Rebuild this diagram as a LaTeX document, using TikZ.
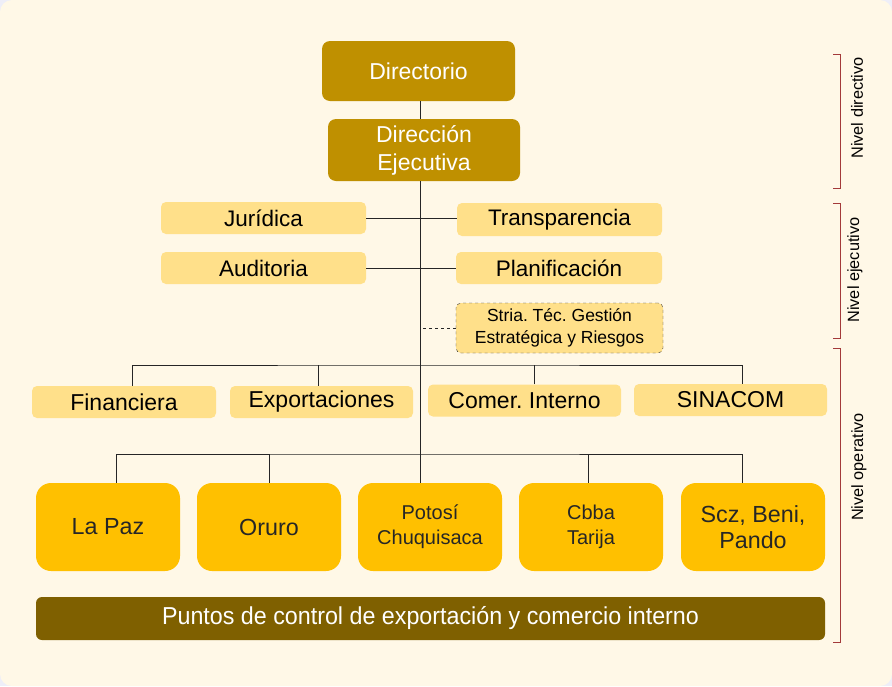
\documentclass[tikz,border=0pt]{standalone}
\usepackage{fontspec}
\setmainfont{Liberation Sans}
\newfontfamily\narrowfont[FakeStretch=0.95]{Liberation Sans}
\usetikzlibrary{positioning, calc}
\frenchspacing

\definecolor{bgcream}{HTML}{FFF8E7}
\definecolor{bgedge}{HTML}{EEEEF8}
\definecolor{darkgold}{HTML}{BF9000}
\definecolor{palegold}{HTML}{FFE08A}
\definecolor{amber}{HTML}{FFC000}
\definecolor{olive}{HTML}{7F6000}
\definecolor{bracketred}{HTML}{A33A3A}
\definecolor{txtgray}{HTML}{262626}

\tikzset{
  topbox/.style={fill=darkgold, text=white, rounded corners=8pt, inner sep=0pt,
    minimum width=193pt, minimum height=60pt, align=center,
    font=\fontsize{23}{28}\selectfont},
  staffbox/.style={fill=palegold, text=black, rounded corners=5pt, inner sep=0pt,
    minimum width=205pt, minimum height=32pt,
    font=\fontsize{22.5}{26}\selectfont},
  unitbox/.style={staffbox, minimum width=184pt, font=\fontsize{23}{26}\selectfont},
  regbox/.style={fill=amber, text=txtgray, rounded corners=15pt, inner sep=0pt,
    minimum width=144pt, minimum height=88pt, align=center,
    font=\fontsize{23.3}{26}\selectfont},
  basebox/.style={fill=olive, text=white, rounded corners=6pt, inner sep=0pt,
    minimum width=789pt, minimum height=43pt, font=\narrowfont\fontsize{24.5}{28}\selectfont},
  lvl/.style={rotate=90, text=black, font=\fontsize{16.3}{20}\selectfont},
  link/.style={draw=black!85, line width=0.9pt}
}

\begin{document}
\begin{tikzpicture}[x=1pt, y=-1pt]

		%Background
		\useasboundingbox (0,0) rectangle (892,686);
		\fill[bgedge] (0,0) rectangle (892,686);
		\fill[bgcream, rounded corners=12pt] (0,0) rectangle (892,686);

		%Directive level
		\node[topbox] (dir) at (418.5,71) {Directorio};
		\node[topbox, minimum width=192pt, minimum height=62pt] (dej) at (424,150) {Dirección\\Ejecutiva};

		%Executive level
		\node[staffbox] (jur) at (263.5,218) {Jurídica};
		\node[staffbox, minimum height=33pt] (tra) at (559.5,219.5) {Transparencia};
		\node[staffbox] (aud) at (263.5,268) {Auditoria};
		\node[staffbox, minimum width=206pt] (pla) at (559,268) {Planificación};
		\node[staffbox, draw=black!80, dashed, minimum width=207pt, minimum height=50pt,
		  align=center, font=\fontsize{17.5}{22}\selectfont] (stria) at (559.5,328)
		  {Stria. Téc. Gestión\\Estratégica y Riesgos};

		%Operative level
		\node[unitbox] (fin) at (124,402) {Financiera};
		\node[unitbox, minimum width=183pt] (exp) at (321.5,402) {Exportaciones};
		\node[unitbox, minimum width=193pt] (com) at (524.5,400.5) {Comer. Interno};
		\node[unitbox, minimum width=193pt] (sin) at (730.5,400) {SINACOM};

		\node[regbox] (lpz) at (108,527) {La Paz};
		\node[regbox] (oru) at (269,527) {Oruro};
		\node[regbox, font=\fontsize{20}{25}\selectfont] (pot) at (430,527) {Potosí\\Chuquisaca};
		\node[regbox, font=\fontsize{20}{25}\selectfont] (cbb) at (591,527) {Cbba\\Tarija};
		\node[regbox] (scz) at (753,527) {Scz, Beni,\\Pando};

		\node[basebox] (ctl) at (430.5,618.5) {Puntos de control de exportación y comercio interno};

		%Connectors
		\coordinate (hub1) at (420,365);
		\coordinate (hub2) at (420,454);
		\draw[link] (dir.south -| hub1) -- (dej.north -| hub1);
		\draw[link] (dej.south -| hub1) -- (pot.north -| hub1);
		\draw[link] (jur.east) -- (jur.east -| tra.west);
		\draw[link] (aud.east) -- (aud.east -| pla.west);
		\draw[link, dashed] (stria.west) -- (stria.west -| hub1);
		\draw[link] (fin.north -| 132,0) |- (hub1) -| (sin.north -| 742,0);
		\draw[link] (exp.north -| 318,0) -- (hub1 -| 318,0);
		\draw[link] (com.north -| 534,0) -- (hub1 -| 534,0);
		\draw[link] (lpz.north -| 116,0) |- (hub2) -| (scz.north -| 742,0);
		\draw[link] (oru.north) -- (oru.north |- hub2);
		\draw[link] (cbb.north -| 588,0) -- (hub2 -| 588,0);

		%Level brackets
		\draw[bracketred, line width=0.9pt] (833,54) -- (840,54) -- (840,188) -- (833,188);
		\draw[bracketred, line width=0.9pt] (833,203) -- (840,203) -- (840,338) -- (833,338);
		\draw[bracketred, line width=0.9pt] (833,348) -- (840,348) -- (840,642) -- (833,642);
		\node[lvl] (ldir) at (857,108) {Nivel directivo};
		\node[lvl] (leje) at (855,270) {Nivel ejecutivo};
		\node[lvl] (lope) at (859,467) {Nivel operativo};

\end{tikzpicture}
\end{document}
